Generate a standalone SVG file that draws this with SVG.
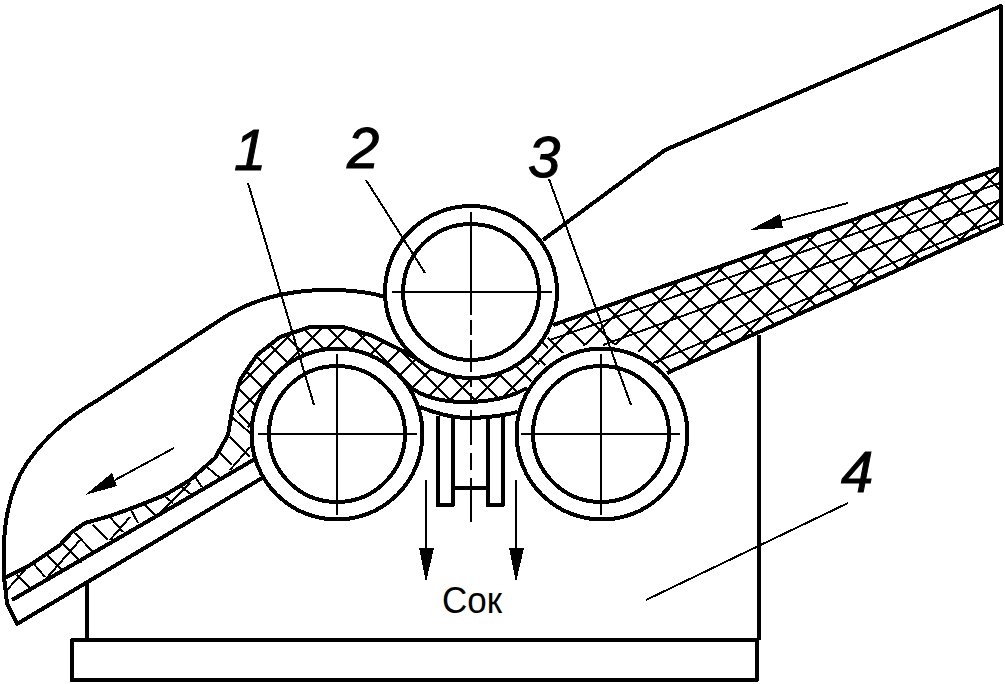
<svg xmlns="http://www.w3.org/2000/svg" width="1005" height="684" viewBox="0 0 1005 684" shape-rendering="crispEdges">
<style>
.o{fill:none;stroke:#000;stroke-width:4;stroke-linejoin:round}
.t{fill:none;stroke:#000;stroke-width:2}
.h{fill:none;stroke:#000;stroke-width:2}
.a{fill:#000;stroke:none}
.d{font-family:"Liberation Sans",sans-serif;font-style:italic;font-size:58px;fill:#000;stroke:#000;stroke-width:1}
</style>
<defs>
<pattern id="x" width="25" height="25" patternUnits="userSpaceOnUse">
<path d="M0 0L25 25M25 0L0 25" stroke="#000" stroke-width="2" fill="none"/>
</pattern>
<pattern id="y" width="30" height="30" patternUnits="userSpaceOnUse">
<path d="M0 0L30 30M30 0L0 30" stroke="#000" stroke-width="2" fill="none"/>
</pattern>
</defs>
<rect width="1005" height="684" fill="#fff"/>
<g id="mat">
<path fill="url(#x)" d="M233 406L240 380L257 355L280 337L310 327L343 327L370 335L397 348L415 358A86 86 0 0 0 551 327L553 338L527 388Q503 402 465 402Q430 402 410 387A86 86 0 0 0 252 434Z"/>
<path fill="url(#y)" d="M553 325L1001 168V223L667 373A86 86 0 0 0 527 388Z"/>
<path class="h" d="M17 575L30 588M33 563L45 577M47 555L62 570M62 543L82 563M75 533L93 552M93 525L108 540M110 517L123 532M130 508L138 523M143 503L155 515M163 495L173 503M180 486L192 495M195 477L202 487M207 467L220 478M220 453L232 465M230 437L250 457M233 418L250 433"/>
<path class="h" d="M7 590L25 570M45 580L80 540M110 540L130 517M160 513L190 483M230 470L250 447"/>
<path class="o" d="M5 578L30 565L60 545L72 532L85 523L110 516L135 507L165 495L190 480L215 458L228 435L233 406L240 380L257 355L280 337L310 327L343 327L370 335L397 348L415 358"/>
<path class="o" d="M553 325L1001 168"/>
<path class="o" d="M667 373L1003 223"/>
<path class="o" d="M410 387Q430 402 465 402Q503 402 527 388"/>
<path class="o" d="M12 600L255 459"/>
<path class="h" d="M550 340L1000 183M603 345L1000 200M653 363L1000 218"/>
</g>
<g id="roller-1"><circle class="o" cx="337" cy="434" r="85.500"/><circle class="o" cx="337" cy="434" r="68"/><path class="t" d="M258 434H417M337 354V515"/></g>
<g id="roller-2"><circle class="o" cx="471" cy="292" r="86"/><circle class="o" cx="471" cy="292" r="68"/><path class="t" d="M392 292H552M471 212V315M471 320V335M471 340V372M471 377V387M471 393V403"/></g>
<g id="roller-3"><circle class="o" cx="602" cy="434" r="85.500"/><circle class="o" cx="601" cy="434" r="68"/><path class="t" d="M521 434H680M601 354V515"/></g>
<g id="hopper">
<path class="o" d="M543 240L665 150L1001 6V224"/>
<path class="o" d="M385 297C360 289 320 288 290 293C260 298 235 310 220 320L98 400C70 416 45 437 27 463C12 485 5 515 4 545L4 577L7 603L17 624L262 478"/>
</g>
<g id="pan">
<path class="o" d="M420 407Q445 417 465 418Q495 418 517 412"/>
<path class="o" d="M438 416V505H453V418M503 416V505H488V418M453 488H488"/>
<path class="t" d="M471 410V445M471 453V470M471 478V522"/>
</g>
<g id="base">
<path class="o" d="M87 582V640M759 335V640M72 640H757V680H72Z"/>
</g>
<g id="connectors">
<path class="t" d="M248 183L314 405M366 180L425 273M549 179L631 405M848 503L646 600"/>
<path class="t" d="M174 448L115 480M848 203L780 221M426 480V548M516 480V548"/>
<path class="a" d="M85 495L112 473L117 486ZM750 230L780 214L783 228ZM419 548H434L426 582ZM509 548H524L516 582Z"/>
</g>
<g id="labels">
<text class="d" x="234" y="170">1</text>
<text class="d" x="347" y="168">2</text>
<text class="d" x="528" y="177">3</text>
<text class="d" x="841" y="492">4</text>
<text x="442" y="613" font-family="'Liberation Sans',sans-serif" font-size="37" textLength="60" lengthAdjust="spacingAndGlyphs">Сок</text>
</g>
</svg>
